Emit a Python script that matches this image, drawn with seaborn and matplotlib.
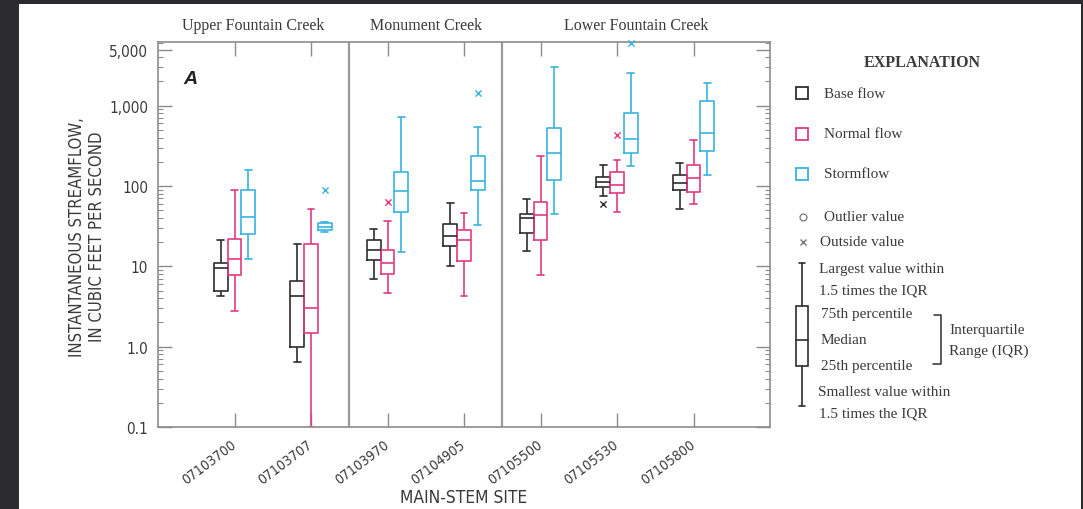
import numpy as np
import pandas as pd
import matplotlib
matplotlib.use("Agg")
import matplotlib.pyplot as plt
import matplotlib.transforms as mtransforms
from matplotlib.patches import Rectangle
from matplotlib.font_manager import FontProperties, fontManager
from matplotlib.ticker import LogLocator, NullFormatter, FixedLocator
import seaborn as sns

# ---------------------------------------------------------------- data
sites = ["07103700", "07103707", "07103970", "07104905",
         "07105500", "07105530", "07105800"]
flow_types = ["Base flow", "Normal flow", "Stormflow"]
reaches = ["Upper Fountain Creek", "Monument Creek", "Lower Fountain Creek"]
reach_centers = [0.25, 2.5, 5.25]
reach_breaks = [1.5, 3.5]

# five-number summaries (cubic feet per second) for each site
base_low = [4.3, 0.65, 6.9, 10, 15.3, 76, 51]
base_q1 = [5.0, 1.0, 12, 18, 26, 97, 88]
base_med = [9.6, 4.3, 16, 24, 40, 113, 109]
base_q3 = [11, 6.5, 21, 34, 45, 128, 137]
base_high = [21, 19, 29, 62, 68, 180, 192]

normal_low = [2.8, 0.1, 4.7, 4.3, 7.7, 48, 59]
normal_q1 = [7.9, 1.5, 8.1, 11.5, 21, 82, 85]
normal_med = [12.4, 3.05, 11, 21.5, 43, 104, 126]
normal_q3 = [22, 19, 16, 28.7, 63, 151, 180]
normal_high = [88, 51, 37, 46, 239, 213, 377]

storm_low = [12.2, 27, 15, 33, 45, 176, 137]
storm_q1 = [25, 28, 48, 90, 120, 256, 276]
storm_med = [41, 31, 86, 117, 256, 385, 457]
storm_q3 = [90, 35, 149, 239, 524, 811, 1154]
storm_high = [160, 36, 718, 538, 3000, 2550, 1915]

# values beyond the whiskers
outside_site = ["07103707", "07103970", "07104905", "07105530", "07105530", "07105530"]
outside_flow = ["Stormflow", "Normal flow", "Stormflow", "Base flow", "Normal flow", "Stormflow"]
outside_value = [88, 64, 1430, 60, 433, 6000]

y_ticks = [0.1, 1, 10, 100, 1000, 5000]
y_ticklabels = ["0.1", "1.0", "10", "100", "1,000", "5,000"]

# ---------------------------------------------------------------- styling
colors = {"Base flow": "#2e2e2e", "Normal flow": "#e23a82", "Stormflow": "#38b3e0"}
TXT = "#3a3a3a"
GRID = "#8c8c8c"

sns.set_style("white")
names = {f.name for f in fontManager.ttflist}
if "Liberation Sans Narrow" in names:
    narrow = dict(family="Liberation Sans Narrow")
else:
    narrow = dict(family="DejaVu Sans", stretch="condensed")
SERIF = "Liberation Serif"


def nprop(size, **kw):
    return FontProperties(size=size, **narrow, **kw)


summary = {
    "Base flow": (base_low, base_q1, base_med, base_q3, base_high),
    "Normal flow": (normal_low, normal_q1, normal_med, normal_q3, normal_high),
    "Stormflow": (storm_low, storm_q1, storm_med, storm_q3, storm_high),
}
rows = []
for flow, parts in summary.items():
    for i, site in enumerate(sites):
        for arr in parts:
            rows.append({"site": site, "flow": flow, "value": arr[i]})
df = pd.DataFrame(rows)

W, H = 1083, 510
fig = plt.figure(figsize=(W / 100, H / 100), dpi=100, facecolor="#2c2c2e")
fig.add_artist(Rectangle((19 / W, 0), (1081 - 19) / W, 1 - 5 / H,
                         transform=fig.transFigure, facecolor="white",
                         edgecolor="none", zorder=-10))

ax = fig.add_axes([158 / W, 1 - 428 / H, (770 - 158) / W, (428 - 43) / H])
ax.set_facecolor("white")

sns.boxplot(data=df, x="site", y="value", hue="flow", order=sites,
            hue_order=flow_types, palette=colors, fill=False, width=0.54,
            gap=0, whis=(0, 100), linewidth=1.2, showfliers=False,
            log_scale=True, legend=False, ax=ax)

box_offset = {"Base flow": -0.18, "Normal flow": 0.0, "Stormflow": 0.18}
for s, f, v in zip(outside_site, outside_flow, outside_value):
    ax.scatter(sites.index(s) + box_offset[f], v, marker="x", s=20,
               linewidths=1.0, color=colors[f], clip_on=False, zorder=5)

for xb in reach_breaks:
    ax.axvline(xb, color="#9a9a9a", lw=1.6, zorder=1)

ax.set_xlim(-1, 7)
ax.set_ylim(0.1, 6200)
ax.set_xlabel("")
ax.set_ylabel("")

ax.yaxis.set_major_locator(FixedLocator(y_ticks))
ax.yaxis.set_minor_locator(LogLocator(base=10, subs=np.arange(2, 10)))
ax.yaxis.set_minor_formatter(NullFormatter())
ax.set_yticklabels(y_ticklabels)
for lab in ax.get_yticklabels():
    lab.set_fontproperties(nprop(11))
    lab.set_color(TXT)

ax.set_xticks(range(len(sites)))
ax.set_xticklabels(sites)
shift = mtransforms.ScaledTranslation(6 / 100, 0, fig.dpi_scale_trans)
for lab in ax.get_xticklabels():
    lab.set_fontproperties(nprop(10))
    lab.set_color(TXT)
    lab.set_rotation(37)
    lab.set_rotation_mode("anchor")
    lab.set_ha("right")
    lab.set_va("center")
    lab.set_transform(lab.get_transform() + shift)

ax.tick_params(axis="both", which="both", direction="in", top=True,
               right=True, left=True, bottom=True, color=GRID)
ax.tick_params(axis="both", which="major", length=10, width=1.0)
ax.tick_params(axis="y", which="minor", length=3.5, width=0.8)
ax.tick_params(axis="x", which="major", pad=11)
ax.tick_params(axis="y", which="major", pad=7)
for sp in ax.spines.values():
    sp.set_color(GRID)
    sp.set_linewidth(1.2)
    sp.set_visible(True)

top_tf = mtransforms.blended_transform_factory(ax.transData, ax.transAxes)
for name, xc in zip(reaches, reach_centers):
    ax.text(xc, 1.045, name, transform=top_tf, ha="center", va="center",
            family=SERIF, fontsize=11.5, color=TXT)

# ---------------------------------------------------------------- annotations
ov = fig.add_axes([0, 0, 1, 1], zorder=3)
ov.set_xlim(0, W)
ov.set_ylim(H, 0)
ov.axis("off")
ov.patch.set_visible(False)

fig.text(87 / W, 1 - 237 / H,
         "INSTANTANEOUS STREAMFLOW,\nIN CUBIC FEET PER SECOND",
         rotation=90, ha="center", va="center", multialignment="center",
         fontproperties=nprop(12), color=TXT, linespacing=1.15)
fig.text(464 / W, 1 - 498 / H, "MAIN-STEM SITE", ha="center", va="center",
         fontproperties=nprop(12.5), color=TXT)

ov.text(190, 80, "A", ha="center", va="center", family="Liberation Sans",
        fontweight="bold", fontstyle="italic", fontsize=14, color="#222222")

ov.text(922, 63, "EXPLANATION", ha="center", va="center", family=SERIF,
        fontweight="bold", fontsize=11.5, color=TXT)

for flow, yc in zip(flow_types, [94, 135, 175]):
    ov.add_patch(Rectangle((796, yc - 6), 12, 12, fill=False,
                           edgecolor=colors[flow], lw=1.3))
    ov.text(824, yc, flow, ha="left", va="center", family=SERIF,
            fontsize=11, color=TXT)

ov.plot([803], [218], marker="o", mfc="none", mec="#777777", ms=5, mew=0.9)
ov.text(824, 218, "Outlier value", ha="left", va="center", family=SERIF,
        fontsize=11, color=TXT)
ov.plot([803], [243], marker="x", color="#777777", ms=5, mew=1.0)
ov.text(820, 243, "Outside value", ha="left", va="center", family=SERIF,
        fontsize=11, color=TXT)

# explanatory box diagram
k = dict(color="#2e2e2e", lw=1.2)
ov.plot([802, 802], [264, 307], **k)
ov.plot([799, 805], [264, 264], **k)
ov.plot([802, 802], [367, 407], **k)
ov.plot([799, 805], [407, 407], **k)
ov.add_patch(Rectangle((796, 307), 12, 60, fill=False, edgecolor="#2e2e2e", lw=1.2))
ov.plot([796, 808], [341, 341], **k)

notes = [(819, 270, "Largest value within"), (819, 291, "1.5 times the IQR"),
         (821, 315, "75th percentile"), (821, 341, "Median"),
         (821, 367, "25th percentile"), (818, 393, "Smallest value within"),
         (819, 414, "1.5 times the IQR")]
for x, y, t in notes:
    ov.text(x, y, t, ha="left", va="center", family=SERIF, fontsize=11, color=TXT)

ov.plot([934, 941, 941, 933], [316, 316, 365, 365], color="#2e2e2e", lw=1.1)
ov.text(949, 331, "Interquartile", ha="left", va="center", family=SERIF,
        fontsize=11, color=TXT)
ov.text(949, 351, "Range (IQR)", ha="left", va="center", family=SERIF,
        fontsize=11, color=TXT)

fig.savefig("out.png", dpi=100, facecolor=fig.get_facecolor())
